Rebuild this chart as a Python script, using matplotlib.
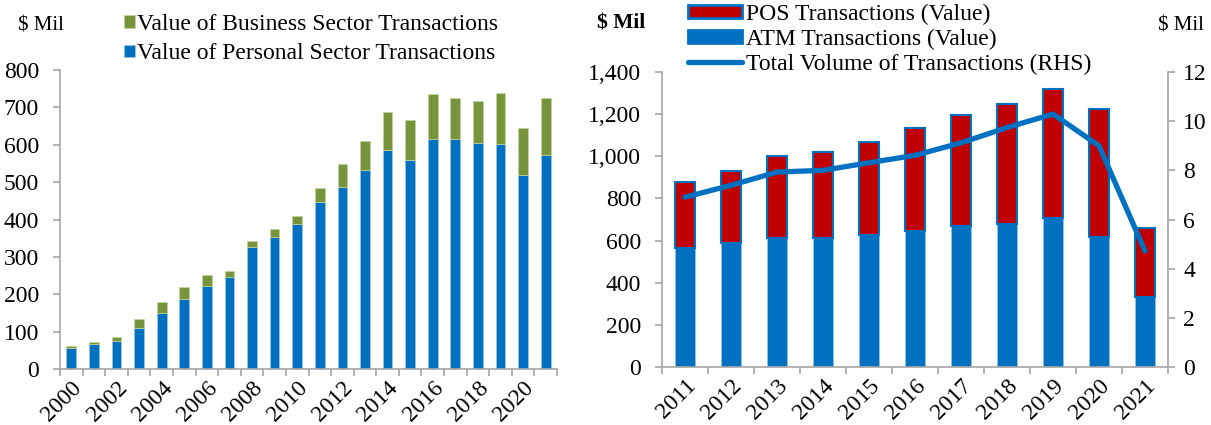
import matplotlib
matplotlib.use("Agg")
import matplotlib.pyplot as plt
from matplotlib.patches import Patch
import numpy as np

# Left chart data
years_left = list(range(2000, 2022))
personal = [57, 66, 76, 110, 151, 188, 223, 245, 327, 354, 388, 448, 488, 533, 585, 558, 615, 615, 606, 603, 520, 573]
total_left = [62, 72, 86, 134, 179, 219, 252, 263, 342, 374, 410, 484, 549, 611, 688, 665, 737, 724, 717, 738, 646, 726]
business = [t - p for t, p in zip(total_left, personal)]
left_ticklabels = [str(y) if y % 2 == 0 else "" for y in years_left]

# Right chart data
years_right = list(range(2011, 2022))
atm = [565, 587, 613, 613, 627, 644, 667, 681, 705, 617, 333]
pos = [312, 344, 389, 405, 440, 492, 529, 566, 616, 608, 326]
volume = [6.91, 7.39, 7.93, 8.0, 8.31, 8.61, 9.12, 9.74, 10.29, 9.0, 4.72]

BLUE = "#0070C0"
GREEN = "#77933C"
RED = "#C00000"
GRAY = "#A6A6A6"

plt.rcParams['font.family'] = ['Liberation Serif', 'DejaVu Serif']
TFS = 17
LFS = 17

W, H = 1211, 425
fig = plt.figure(figsize=(W/100, H/100), dpi=100)

def rect(x0, x1, ytop, ybot):
    return [x0/W, 1-ybot/H, (x1-x0)/W, (ybot-ytop)/H]

# ---------- Left chart ----------
ax1 = fig.add_axes(rect(60, 557, 70, 369))
x1 = np.arange(len(years_left))
w1 = 0.43
b_p = ax1.bar(x1, personal, width=w1, color=BLUE, edgecolor="#9DC3E6", linewidth=0.5)
b_b = ax1.bar(x1, business, width=w1, bottom=personal, color=GREEN, edgecolor="#C3D69B", linewidth=0.5)
ax1.set_xlim(-0.5, len(years_left) - 0.5)
ax1.set_ylim(0, 800)
ax1.set_yticks(range(0, 801, 100))
ax1.set_xticks(x1)
ax1.set_xticklabels(left_ticklabels, rotation=45, ha='right', rotation_mode='anchor', fontsize=TFS)
ax1.set_xticks(np.arange(-0.5, len(years_left), 1), minor=True)
ax1.tick_params(axis='x', which='major', length=0, pad=6)
ax1.tick_params(axis='x', which='minor', length=5, color=GRAY, width=1.2)
ax1.tick_params(axis='y', length=5, color=GRAY, width=1.2, labelsize=TFS, pad=10)
for s in ['top', 'right']:
    ax1.spines[s].set_visible(False)
for s in ['left', 'bottom']:
    ax1.spines[s].set_color(GRAY)
    ax1.spines[s].set_linewidth(1.2)
fig.text(18/W, 1-26/H, "$ Mil", fontsize=15, va='center', ha='left')
fig.legend([b_b, b_p], ["Value of Business Sector Transactions", "Value of Personal Sector Transactions"],
           loc='upper left', bbox_to_anchor=(124/W, 1-14/H), frameon=False, fontsize=LFS,
           handlelength=0.45, handleheight=0.45, handletextpad=0.12, labelspacing=0.35,
           borderaxespad=0, borderpad=0)

# ---------- Right chart ----------
ax2 = fig.add_axes(rect(662, 1168, 72, 367))
x2 = np.arange(len(years_right))
w2 = 0.44
b_atm = ax2.bar(x2, atm, width=w2, color=BLUE, edgecolor="#9DC3E6", linewidth=0.5, zorder=2)
b_pos = ax2.bar(x2, pos, width=w2, bottom=atm, color=RED, edgecolor=BLUE, linewidth=1.5, zorder=2)
ax2.set_xlim(-0.5, len(years_right) - 0.5)
ax2.set_ylim(0, 1400)
ax2.set_yticks(range(0, 1401, 200))
ax2.set_yticklabels([f"{v:,}" for v in range(0, 1401, 200)])
ax2.set_xticks(x2)
ax2.set_xticklabels([str(y) for y in years_right], rotation=45, ha='right', rotation_mode='anchor', fontsize=TFS)
ax2.set_xticks(np.arange(-0.5, len(years_right), 1), minor=True)
ax2.tick_params(axis='x', which='major', length=0, pad=6)
ax2.tick_params(axis='x', which='minor', length=5, color=GRAY, width=1.2)
ax2.tick_params(axis='y', length=5, color=GRAY, width=1.2, labelsize=TFS, pad=10)
for s in ['top', 'right']:
    ax2.spines[s].set_visible(False)
for s in ['left', 'bottom']:
    ax2.spines[s].set_color(GRAY)
    ax2.spines[s].set_linewidth(1.2)

ax3 = ax2.twinx()
ln, = ax3.plot(x2, volume, color=BLUE, linewidth=3.8, solid_capstyle='round', zorder=3)
ax3.set_ylim(0, 12)
ax3.set_yticks(range(0, 13, 2))
ax3.tick_params(axis='y', length=5, color=GRAY, width=1.2, labelsize=TFS, direction='out', pad=6)
for s in ['top', 'left', 'bottom']:
    ax3.spines[s].set_visible(False)
ax3.spines['right'].set_color(GRAY)
ax3.spines['right'].set_linewidth(1.2)

fig.text(597/W, 1-23/H, "$ Mil", fontsize=15.5, fontweight='bold', va='center', ha='left')
fig.text(1158/W, 1-26/H, "$ Mil", fontsize=15, va='center', ha='left')

h_pos = Patch(facecolor=RED, edgecolor=BLUE, linewidth=2)
h_atm = Patch(facecolor=BLUE, edgecolor=BLUE, linewidth=2)
fig.legend([h_pos, h_atm, ln], ["POS Transactions (Value)", "ATM Transactions (Value)", "Total Volume of Transactions (RHS)"],
           loc='upper left', bbox_to_anchor=(688/W, 1-4/H), frameon=False, fontsize=LFS,
           handlelength=2.3, handleheight=0.45, handletextpad=0.15, labelspacing=0.15,
           borderaxespad=0, borderpad=0)

fig.savefig("out.png", dpi=100)
